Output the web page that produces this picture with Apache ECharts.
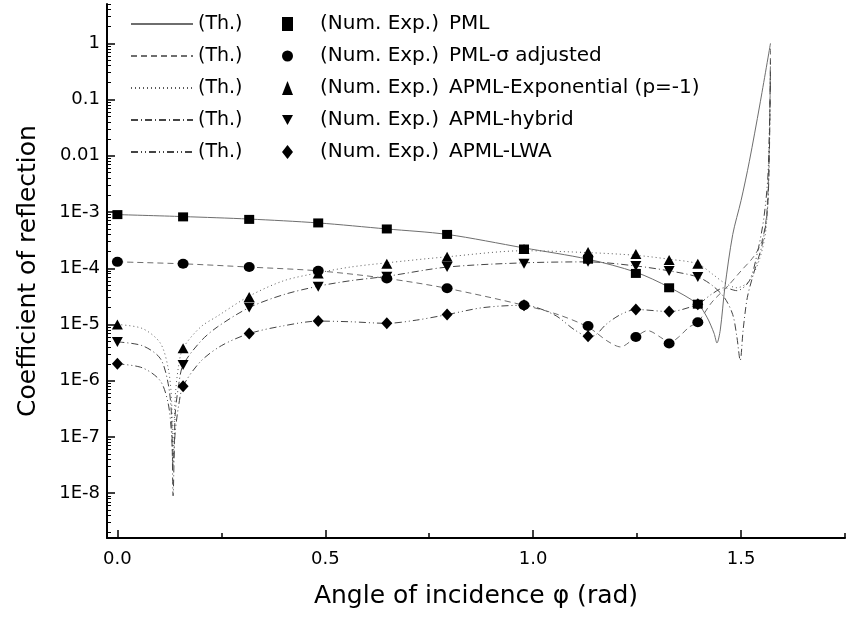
<!DOCTYPE html>
<html><head><meta charset="utf-8">
<script src="https://cdn.jsdelivr.net/npm/echarts@6/dist/echarts.min.js"></script>
<style>html,body{margin:0;padding:0;background:#fff}#c{width:849px;height:620px}</style>
</head><body><div id="c"></div>
<script>
// ---------- tick definitions ----------
const xTickValues = [0, 0.5, 1.0, 1.5];
const xTickLabels = ['0.0', '0.5', '1.0', '1.5'];
const xMinorTickValues = [0.25, 0.75, 1.25, 1.75];
const yTickValues = [1e-8, 1e-7, 1e-6, 1e-5, 1e-4, 1e-3, 0.01, 0.1, 1];
const yTickLabels = ['1E-8', '1E-7', '1E-6', '1E-5', '1E-4', '1E-3', '0.01', '0.1', '1'];
const xMin = -0.025, xMax = 1.75;
const yMin = 1.6e-9, yMax = 5;

// ---------- series names ----------
const seriesNames = ['PML', 'PML-σ adjusted', 'APML-Exponential (p=-1)', 'APML-hybrid', 'APML-LWA'];

// ---------- numerical experiment points ----------
const numX = [0, 0.158, 0.317, 0.483, 0.648, 0.793, 0.978, 1.132, 1.247, 1.327, 1.396];
const numPML   = [9.0e-4, 8.2e-4, 7.4e-4, 6.4e-4, 5.0e-4, 4.0e-4, 2.2e-4, 1.45e-4, 8.1e-5, 4.5e-5, 2.3e-5];
const numSigma = [1.3e-4, 1.2e-4, 1.05e-4, 9.0e-5, 6.6e-5, 4.4e-5, 2.2e-5, 9.4e-6, 6.0e-6, 4.6e-6, 1.1e-5];
const numExp   = [1.0e-5, 3.8e-6, 3.1e-5, 8.1e-5, 1.2e-4, 1.6e-4, 2.2e-4, 1.95e-4, 1.8e-4, 1.4e-4, 1.2e-4];
const numHyb   = [4.9e-6, 1.9e-6, 2.0e-5, 4.7e-5, 7.1e-5, 1.05e-4, 1.2e-4, 1.3e-4, 1.1e-4, 8.9e-5, 7.0e-5];
const numLWA   = [2.0e-6, 8.0e-7, 6.9e-6, 1.15e-5, 1.05e-5, 1.5e-5, 2.2e-5, 6.2e-6, 1.85e-5, 1.7e-5, 2.3e-5];

// ---------- theoretical curves ----------
const thPMLx = [0, 0.158, 0.317, 0.483, 0.648, 0.793, 0.978, 1.132, 1.247, 1.327, 1.396, 1.418, 1.435, 1.442, 1.45, 1.461, 1.48, 1.50, 1.52, 1.545, 1.5708];
const thPMLy = [9.0e-4, 8.3e-4, 7.5e-4, 6.4e-4, 5.0e-4, 4.0e-4, 2.3e-4, 1.45e-4, 8.5e-5, 4.6e-5, 2.3e-5, 1.35e-5, 7e-6, 4.7e-6, 8e-6, 4.5e-5, 4e-4, 1.6e-3, 8e-3, 8e-2, 1];

const thSigmaX = [0, 0.158, 0.317, 0.483, 0.648, 0.793, 0.978, 1.06, 1.132, 1.18, 1.21, 1.247, 1.275, 1.31, 1.327, 1.35, 1.375, 1.396, 1.43, 1.47, 1.50, 1.53, 1.55, 1.562, 1.568, 1.5708];
const thSigmaY = [1.3e-4, 1.2e-4, 1.05e-4, 9.0e-5, 6.6e-5, 4.4e-5, 2.2e-5, 1.5e-5, 9e-6, 5e-6, 4e-6, 6e-6, 7.8e-6, 5.7e-6, 4.7e-6, 6e-6, 9e-6, 1.1e-5, 2.5e-5, 5e-5, 9e-5, 1.6e-4, 3e-4, 1e-3, 2e-2, 0.8];

const thExpX = [0, 0.06, 0.103, 0.122, 0.13, 0.134, 0.139, 0.147, 0.158, 0.2, 0.24, 0.317, 0.4, 0.483, 0.56, 0.648, 0.793, 0.978, 1.132, 1.247, 1.327, 1.396, 1.43, 1.46, 1.49, 1.52, 1.545, 1.56, 1.567, 1.5708];
const thExpY = [1.0e-5, 8.5e-6, 4.7e-6, 1.7e-6, 5e-7, 4e-8, 5e-7, 1.8e-6, 3.8e-6, 9e-6, 1.4e-5, 3.2e-5, 6e-5, 8.3e-5, 1.05e-4, 1.25e-4, 1.6e-4, 2.05e-4, 1.9e-4, 1.7e-4, 1.45e-4, 1.2e-4, 8e-5, 5.5e-5, 4.5e-5, 6e-5, 1.5e-4, 5e-4, 5e-3, 0.6];

const thHybX = [0, 0.06, 0.103, 0.122, 0.13, 0.134, 0.139, 0.147, 0.158, 0.2, 0.24, 0.317, 0.4, 0.483, 0.56, 0.648, 0.793, 0.978, 1.132, 1.247, 1.327, 1.396, 1.43, 1.46, 1.48, 1.49, 1.498, 1.505, 1.515, 1.53, 1.55, 1.563, 1.568, 1.5708];
const thHybY = [4.9e-6, 4.2e-6, 2.5e-6, 9e-7, 2.5e-7, 9e-9, 2.5e-7, 8e-7, 1.9e-6, 5e-6, 9e-6, 2e-5, 3.4e-5, 4.8e-5, 6e-5, 7.2e-5, 1.05e-4, 1.25e-4, 1.3e-4, 1.1e-4, 9e-5, 7e-5, 5e-5, 3e-5, 1.5e-5, 6e-6, 2.3e-6, 8e-6, 3e-5, 8e-5, 2.5e-4, 1e-3, 1e-2, 0.5];

const thLWAx = [0, 0.06, 0.103, 0.122, 0.13, 0.134, 0.139, 0.147, 0.158, 0.2, 0.25, 0.317, 0.4, 0.483, 0.56, 0.648, 0.72, 0.793, 0.88, 0.978, 1.05, 1.10, 1.132, 1.15, 1.175, 1.21, 1.247, 1.327, 1.396, 1.43, 1.46, 1.49, 1.52, 1.54, 1.555, 1.565, 1.5708];
const thLWAy = [2.0e-6, 1.7e-6, 1.0e-6, 4e-7, 1.2e-7, 3e-8, 1.2e-7, 3.5e-7, 8e-7, 2.2e-6, 4.2e-6, 6.9e-6, 9.5e-6, 1.15e-5, 1.12e-5, 1.05e-5, 1.2e-5, 1.5e-5, 2e-5, 2.2e-5, 1.5e-5, 8e-6, 6.2e-6, 6.5e-6, 1e-5, 1.5e-5, 1.85e-5, 1.7e-5, 2.3e-5, 3.5e-5, 4.5e-5, 4e-5, 6e-5, 2e-4, 8e-4, 5e-3, 0.3];

// ---------- build ----------
const zip = (xs, ys) => xs.map((x, i) => [x, ys[i]]);
const FONT = 'DejaVu Sans';
const lineDash = ['solid', [6, 4], [1, 3], [7, 3, 1, 3], [7, 3, 1, 3, 1, 3]];
const lineColors = ['#6e6e6e', '#6e6e6e', '#5a5a5a', '#444', '#444'];
const thX = [thPMLx, thSigmaX, thExpX, thHybX, thLWAx];
const thY = [thPMLy, thSigmaY, thExpY, thHybY, thLWAy];
const numY = [numPML, numSigma, numExp, numHyb, numLWA];
const symbols = ['rect', 'circle', 'triangle', 'path://M0,0 L10,0 L5,9 Z', 'diamond'];
const symSize = [[10, 9], [11, 10], [11, 10], [11, 10], [11, 12]];

const thNames = seriesNames.map(n => n + ' (Th.)');
const series = [];
seriesNames.forEach((n, i) => {
  series.push({
    type: 'line', name: thNames[i], data: zip(thX[i], thY[i]),
    xAxisIndex: 0, yAxisIndex: 0,
    symbol: 'none', showSymbol: false, smooth: 0.3, silent: true, z: 2,
    lineStyle: { color: lineColors[i], width: 1, type: lineDash[i] },
    itemStyle: { color: lineColors[i] }
  });
});
seriesNames.forEach((n, i) => {
  series.push({
    type: 'scatter', name: n, data: zip(numX, numY[i]),
    xAxisIndex: 0, yAxisIndex: 0,
    symbol: symbols[i], symbolSize: symSize[i],
    itemStyle: { color: '#000', opacity: 1 }, z: 3, silent: true
  });
});

const yLog = yTickValues.map(v => Math.log10(v));
const yMinor = [];
for (let e = -9; e <= 0; e++) {
  for (let k = 2; k <= 9; k++) {
    const v = k * Math.pow(10, e);
    if (v >= yMin && v <= yMax) yMinor.push(Math.log10(v));
  }
}
const yLabelFor = v => {
  for (let i = 0; i < yLog.length; i++) if (Math.abs(yLog[i] - v) < 1e-6) return yTickLabels[i];
  return '';
};
const xLabelFor = v => {
  for (let i = 0; i < xTickValues.length; i++) if (Math.abs(xTickValues[i] - v) < 1e-9) return xTickLabels[i];
  return '';
};

const chart = echarts.init(document.getElementById('c'), null, { renderer: 'canvas' });
chart.setOption({
  animation: false,
  backgroundColor: '#fff',
  grid: { left: 107, right: 4, top: 4, bottom: 82, containLabel: false },
  xAxis: [
    { type: 'value', gridIndex: 0, position: 'bottom', min: xMin, max: xMax,
      axisLine: { show: true, onZero: false, lineStyle: { color: '#000', width: 2 } },
      axisTick: { show: false }, axisLabel: { show: false }, splitLine: { show: false },
      name: 'Angle of incidence φ (rad)', nameLocation: 'middle', nameGap: 46,
      nameTextStyle: { fontFamily: FONT, fontSize: 25, color: '#000' } },
    { type: 'value', gridIndex: 0, position: 'bottom', min: xMin, max: xMax,
      axisLine: { show: false, onZero: false }, splitLine: { show: false },
      axisTick: { show: true, inside: true, length: 8, customValues: xTickValues, lineStyle: { color: '#000', width: 1.5 } },
      axisLabel: { show: true, customValues: xTickValues, margin: 12, formatter: v => xLabelFor(v),
        fontFamily: FONT, fontSize: 18, color: '#000' } },
    { type: 'value', gridIndex: 0, position: 'bottom', min: xMin, max: xMax,
      axisLine: { show: false, onZero: false }, splitLine: { show: false },
      axisTick: { show: true, inside: true, length: 5, customValues: xMinorTickValues, lineStyle: { color: '#000', width: 1.5 } },
      axisLabel: { show: false } }
  ],
  yAxis: [
    { type: 'log', logBase: 10, gridIndex: 0, position: 'left', min: yMin, max: yMax,
      axisLine: { show: true, onZero: false, lineStyle: { color: '#000', width: 2 } },
      axisTick: { show: false }, axisLabel: { show: false }, splitLine: { show: false },
      name: 'Coefficient of reflection', nameLocation: 'middle', nameGap: 66,
      nameTextStyle: { fontFamily: FONT, fontSize: 25, color: '#000' } },
    { type: 'value', gridIndex: 0, position: 'left', min: Math.log10(yMin), max: Math.log10(yMax),
      axisLine: { show: false, onZero: false }, splitLine: { show: false },
      axisTick: { show: true, inside: true, length: 8, customValues: yLog, lineStyle: { color: '#000', width: 1.5 } },
      axisLabel: { show: true, customValues: yLog, margin: 7, formatter: v => yLabelFor(v),
        fontFamily: FONT, fontSize: 18, color: '#000' } },
    { type: 'value', gridIndex: 0, position: 'left', min: Math.log10(yMin), max: Math.log10(yMax),
      axisLine: { show: false, onZero: false }, splitLine: { show: false },
      axisTick: { show: true, inside: true, length: 4, customValues: yMinor, lineStyle: { color: '#000', width: 1 } },
      axisLabel: { show: false } }
  ],
  legend: [
    { data: thNames, orient: 'vertical', left: 125, top: 8, itemWidth: 62, itemHeight: 14, itemGap: 10,
      selectedMode: false, formatter: () => '(Th.)',
      itemStyle: { color: 'rgba(0,0,0,0)', borderColor: 'rgba(0,0,0,0)', borderWidth: 0 },
      textStyle: { fontFamily: FONT, fontSize: 19, color: '#000', lineHeight: 22 } },
    { data: seriesNames, orient: 'vertical', left: 277, top: 8, itemWidth: 11, itemHeight: 14, itemGap: 10,
      selectedMode: false,
      formatter: n => '{a|(Num. Exp.)}{b|' + n + '}',
      itemStyle: { color: '#000', opacity: 1 },
      textStyle: { fontFamily: FONT, fontSize: 19, color: '#000', lineHeight: 22,
        rich: {
          a: { fontFamily: FONT, fontSize: 20, color: '#000', lineHeight: 22, padding: [0, 0, 0, 22] },
          b: { fontFamily: FONT, fontSize: 20, color: '#000', lineHeight: 22, padding: [0, 0, 0, 10] }
        } } }
  ],
  series: series
});
</script></body></html>
